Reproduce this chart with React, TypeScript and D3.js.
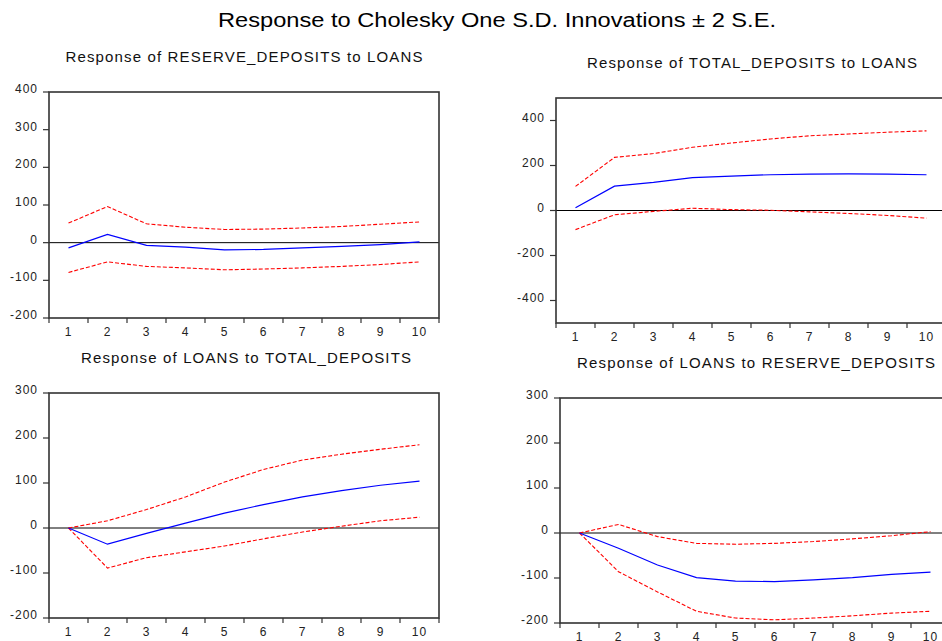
import React from "react";
import * as d3 from "d3";

const periods = [1, 2, 3, 4, 5, 6, 7, 8, 9, 10];

const mainTitle = "Response to Cholesky One S.D. Innovations \u00B1 2 S.E.";

const titles = [
  "Response of RESERVE_DEPOSITS to LOANS",
  "Response of TOTAL_DEPOSITS to LOANS",
  "Response of LOANS to TOTAL_DEPOSITS",
  "Response of LOANS to RESERVE_DEPOSITS",
];

// Panel 1: RESERVE_DEPOSITS to LOANS
const p1Resp = [-14, 22, -7, -12, -19, -18, -14, -10, -5, 2];
const p1Upper = [52, 96, 50, 41, 35, 36, 39, 43, 49, 55];
const p1Lower = [-79, -51, -63, -67, -72, -70, -67, -63, -58, -51];
const p1Ticks = [-200, -100, 0, 100, 200, 300, 400];

// Panel 2: TOTAL_DEPOSITS to LOANS
const p2Resp = [12, 108, 125, 146, 153, 159, 162, 163, 162, 159];
const p2Upper = [107, 236, 253, 281, 300, 318, 332, 340, 348, 354];
const p2Lower = [-85, -19, -4, 10, 4, 1, -6, -13, -22, -34];
const p2Ticks = [-400, -200, 0, 200, 400];

// Panel 3: LOANS to TOTAL_DEPOSITS
const p3Resp = [0, -36, -12, 11, 33, 52, 69, 83, 95, 104];
const p3Upper = [0, 16, 41, 69, 102, 130, 151, 164, 175, 185];
const p3Lower = [0, -89, -66, -53, -40, -24, -9, 4, 16, 24];
const p3Ticks = [-200, -100, 0, 100, 200, 300];

// Panel 4: LOANS to RESERVE_DEPOSITS
const p4Resp = [0, -34, -71, -99, -107, -108, -104, -99, -92, -87];
const p4Upper = [0, 19, -8, -23, -25, -23, -19, -13, -6, 3];
const p4Lower = [0, -86, -131, -174, -189, -193, -189, -184, -178, -174];
const p4Ticks = [-200, -100, 0, 100, 200, 300];

const FONT = "'Liberation Sans', Arial, Helvetica, sans-serif";

type PanelProps = {
  title: string;
  titleX: number;
  titleY: number;
  titleW: number;
  left: number;
  right: number;
  top: number;
  bottom: number;
  domain: [number, number];
  ticks: number[];
  resp: number[];
  upper: number[];
  lower: number[];
};

function Panel(p: PanelProps) {
  const x = d3
    .scaleBand<number>()
    .domain(periods)
    .range([p.left, p.right])
    .padding(0);
  const y = d3.scaleLinear().domain(p.domain).range([p.bottom, p.top]);
  const cx = (i: number) => (x(periods[i]) as number) + x.bandwidth() / 2;
  const line = d3
    .line<number>()
    .x((_, i) => cx(i))
    .y((d) => y(d));
  const boundaries = periods.map((d) => x(d) as number).concat([p.right]);
  return (
    <g>
      <text
        x={p.titleX}
        y={p.titleY}
        textAnchor="middle"
        fontFamily={FONT}
        fontSize={15}
        fill="#111"
        textLength={p.titleW}
        lengthAdjust="spacing"
      >
        {p.title}
      </text>
      {/* zero line */}
      <line
        x1={p.left}
        x2={p.right}
        y1={y(0)}
        y2={y(0)}
        stroke="#000"
        strokeWidth={1}
      />
      <path
        d={line(p.upper) || ""}
        fill="none"
        stroke="#ff0000"
        strokeWidth={1.1}
        strokeDasharray="4 2"
      />
      <path
        d={line(p.lower) || ""}
        fill="none"
        stroke="#ff0000"
        strokeWidth={1.1}
        strokeDasharray="4 2"
      />
      <path d={line(p.resp) || ""} fill="none" stroke="#0000ff" strokeWidth={1.2} />
      {/* box */}
      <rect
        x={p.left}
        y={p.top}
        width={p.right - p.left}
        height={p.bottom - p.top}
        fill="none"
        stroke="#333"
        strokeWidth={1.6}
      />
      {/* y ticks */}
      {p.ticks.map((t) => (
        <g key={"y" + t}>
          <line
            x1={p.left - 6}
            x2={p.left}
            y1={y(t)}
            y2={y(t)}
            stroke="#333"
            strokeWidth={1.2}
          />
          <text
            x={p.left - 11}
            y={y(t) + 1}
            textAnchor="end"
            fontFamily={FONT}
            fontSize={12}
            letterSpacing={1}
            fill="#222"
          >
            {t}
          </text>
        </g>
      ))}
      {/* x ticks */}
      {boundaries.map((b, i) => (
        <line
          key={"xt" + i}
          x1={b}
          x2={b}
          y1={p.bottom}
          y2={p.bottom + 5}
          stroke="#333"
          strokeWidth={1.2}
        />
      ))}
      {periods.map((d, i) => (
        <text
          key={"xl" + d}
          x={cx(i)}
          y={p.bottom + 18}
          textAnchor="middle"
          fontFamily={FONT}
          fontSize={12}
          letterSpacing={1}
          fill="#222"
        >
          {d}
        </text>
      ))}
    </g>
  );
}

export default function App() {
  return (
    <svg
      width={942}
      height={641}
      style={{ position: "absolute", left: 0, top: 0, background: "#fff" }}
    >
      <rect x={0} y={0} width={942} height={641} fill="#fff" />
      <text
        x={497}
        y={27}
        textAnchor="middle"
        fontFamily={FONT}
        fontSize={20}
        fill="#000"
        textLength={558}
        lengthAdjust="spacingAndGlyphs"
      >
        {mainTitle}
      </text>
      <Panel
        title={titles[0]}
        titleX={244}
        titleY={62}
        titleW={357}
        left={49}
        right={439}
        top={92}
        bottom={318}
        domain={[-200, 400]}
        ticks={p1Ticks}
        resp={p1Resp}
        upper={p1Upper}
        lower={p1Lower}
      />
      <Panel
        title={titles[1]}
        titleX={752}
        titleY={68}
        titleW={330}
        left={556}
        right={946}
        top={98}
        bottom={323}
        domain={[-500, 500]}
        ticks={p2Ticks}
        resp={p2Resp}
        upper={p2Upper}
        lower={p2Lower}
      />
      <Panel
        title={titles[2]}
        titleX={246}
        titleY={363}
        titleW={330}
        left={49}
        right={439}
        top={393}
        bottom={618}
        domain={[-200, 300]}
        ticks={p3Ticks}
        resp={p3Resp}
        upper={p3Upper}
        lower={p3Lower}
      />
      <Panel
        title={titles[3]}
        titleX={756}
        titleY={368}
        titleW={358}
        left={560}
        right={950}
        top={398}
        bottom={623}
        domain={[-200, 300]}
        ticks={p4Ticks}
        resp={p4Resp}
        upper={p4Upper}
        lower={p4Lower}
      />
    </svg>
  );
}
